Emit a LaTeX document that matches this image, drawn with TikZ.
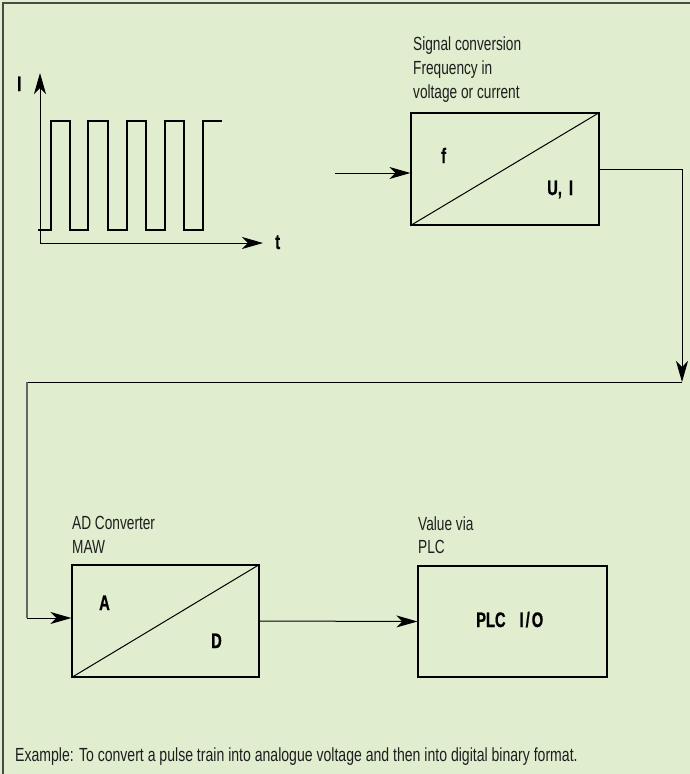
\documentclass[tikz,border=0pt]{standalone}
\usepackage{fontspec}
\usetikzlibrary{arrows.meta}
\newfontfamily\lblfont{Liberation Sans}[FakeStretch=0.72]
\newfontfamily\footfont{Liberation Sans}[FakeStretch=0.74]
\newfontfamily\blblfont{Liberation Sans}[FakeStretch=0.7,FakeBold=0.8]
\definecolor{bg}{RGB}{224,237,206}
\definecolor{frame}{RGB}{70,75,70}
\definecolor{txt}{RGB}{30,30,30}
\begin{document}
\begin{tikzpicture}[x=1pt,y=-1pt,
  wire/.style={line width=1pt, black},
  arr/.style={line width=1pt, black, -{Stealth[length=21pt,width=12pt,inset=6pt]}},
  blockbox/.style={draw=black, line width=1.2pt, inner sep=0pt},
  lab/.style={anchor=base west, inner sep=0pt, text=txt, font=\lblfont\fontsize{19}{24}\selectfont},
  blab/.style={anchor=base west, inner sep=0pt, text=black, font=\blblfont\bfseries\fontsize{21}{24}\selectfont}]
\useasboundingbox (0,0) rectangle (690,774);
\fill[bg] (0,0) rectangle (690,774);
\draw[frame, line width=1.8pt] (3,774) -- (3,3) -- (690,3);

% pulse diagram
\coordinate (o) at (40,243);
\coordinate (ytip) at (40,73);
\coordinate (xtip) at (263,243);
\draw[arr] (o) -- (ytip);
\draw[arr] (o) -- (xtip);
\node[blab] (ilab) at (17,91) {I};
\node[blab] (tlab) at (275,249) {t};
\draw[wire, line width=1.1pt] (38,230) -- (51,230) -- (51,121) -- (70,121) -- (70,230) -- (88,230) -- (88,121)
  -- (108,121) -- (108,230) -- (127,230) -- (127,121) -- (146,121) -- (146,230) -- (165,230)
  -- (165,121) -- (184,121) -- (184,230) -- (203,230) -- (203,121) -- (222,121);

% signal conversion block
\node[blockbox, minimum width=188pt, minimum height=112pt] (conv) at (505,169) {};
\draw[wire] (conv.south west) -- (conv.north east);
\node[lab] (s1) at (413,50) {Signal conversion};
\node[lab] (s2) at (413,74) {Frequency in};
\node[lab] (s3) at (413,98) {voltage or current};
\node[blab] (flab) at (441,163) {f};
\node[blab] (uilab) at (547,195) {U,\hspace{7pt}I};
\coordinate (in) at (335,173);
\draw[arr] (in) -- (in -| conv.west);
\coordinate (c1) at (682,382);
\coordinate (c2) at (27,382);
\coordinate (c3) at (27,618);
\draw[arr] (conv.east) -| (c1);
\draw[wire] (c1) -- (c2);
\draw[line width=1.6pt, black!60] (c2) -- (c3);

% AD converter block
\node[blockbox, minimum width=187pt, minimum height=112pt] (ad) at (165.5,621) {};
\draw[wire] (ad.south west) -- (ad.north east);
\node[lab] (a1) at (72,529) {AD Converter};
\node[lab] (a2) at (72,553) {MAW};
\node[blab] (alab) at (99,610) {A};
\node[blab] (dlab) at (211,648) {D};
\draw[arr] (c3) -- (c3 -| ad.west);

% PLC block
\node[blockbox, minimum width=189pt, minimum height=111pt] (plc) at (512.5,621.5) {};
\node[lab] (p1) at (418,530) {Value via};
\node[lab] (p2) at (418,553) {PLC};
\node[blab] (plclab) at (476,627) {PLC\hspace{14pt}I\kern2pt/\kern2pt O};
\draw[arr] (ad.east) -- (plc.west);

% footer
\node[lab, font=\footfont\fontsize{19}{24}\selectfont] (foot) at (15,761) {Example: To convert a pulse train into analogue voltage and then into digital binary format.};
\end{tikzpicture}
\end{document}
